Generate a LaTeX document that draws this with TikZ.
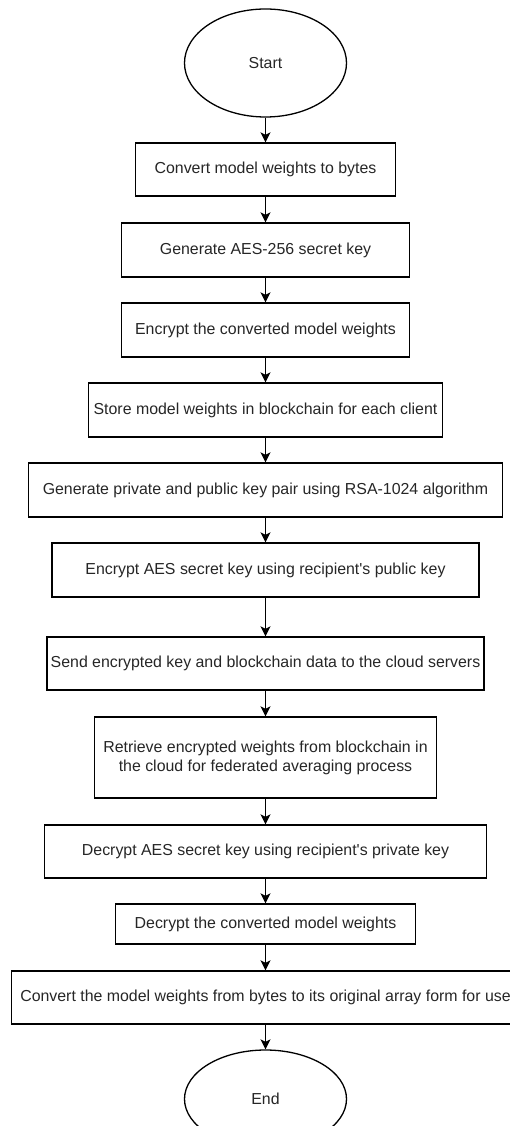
\documentclass[tikz,border=0pt]{standalone}
\usepackage{fontspec}
\setmainfont{Liberation Sans}
\newfontfamily\plainsans{Liberation Sans}
\usetikzlibrary{arrows.meta,shapes.geometric}
\begin{document}
\begin{tikzpicture}[x=1pt,y=-1pt,
  lbl/.style={font=\plainsans\fontsize{15.9}{19}\selectfont,text=black!85},
  box/.style={lbl,draw=black,line width=1.3pt,rectangle,inner sep=0pt,align=center,minimum height=54pt},
  term/.style={lbl,draw=black,ellipse,line width=1.3pt,inner sep=0pt,minimum width=162pt},
  arr/.style={-{Stealth[length=10pt,width=10pt,inset=2.5pt]},line width=1.5pt}]
\clip (0,0) rectangle (510,1126);
\node[term,minimum height=108pt] (start) at (265.5,63) {Start};
\node[box,minimum width=260pt,minimum height=53pt] (b1) at (265.5,169.5) {Convert model weights to bytes};
\node[box,minimum width=288pt] (b2) at (265.5,250) {Generate AES-256 secret key};
\node[box,minimum width=288pt] (b3) at (265.5,330) {Encrypt the converted model weights};
\node[box,minimum width=354pt] (b4) at (265.5,410) {Store model weights in blockchain for each client};
\node[box,minimum width=474pt] (b5) at (265.5,490) {Generate private and public key pair using RSA-1024 algorithm};
\node[box,minimum width=427pt] (b6) at (265.5,570) {Encrypt AES secret key using recipient's public key};
\node[box,minimum width=437pt,minimum height=53pt] (b7) at (265.5,663.5) {Send encrypted key and blockchain data to the cloud servers};
\node[box,minimum width=342pt,minimum height=81pt] (b8) at (265.5,757.5) {Retrieve encrypted weights from blockchain in\\the cloud for federated averaging process};
\node[box,minimum width=442pt,minimum height=53pt] (b9) at (265.5,851.5) {Decrypt AES secret key using recipient's private key};
\node[box,minimum width=300pt,minimum height=40pt] (b10) at (265.5,924) {Decrypt the converted model weights};
\node[box,minimum width=508pt,minimum height=53pt] (b11) at (265.5,997.5) {Convert the model weights from bytes to its original array form for use};
\node[term,minimum height=98pt] (end) at (265.5,1099) {End};
\draw[arr] (start) -- (b1);
\draw[arr] (b1) -- (b2);
\draw[arr] (b2) -- (b3);
\draw[arr] (b3) -- (b4);
\draw[arr] (b4) -- (b5);
\draw[arr] (b5) -- (b6);
\draw[arr] (b6) -- (b7);
\draw[arr] (b7) -- (b8);
\draw[arr] (b8) -- (b9);
\draw[arr] (b9) -- (b10);
\draw[arr] (b10) -- (b11);
\draw[arr] (b11) -- (end);
\end{tikzpicture}
\end{document}
